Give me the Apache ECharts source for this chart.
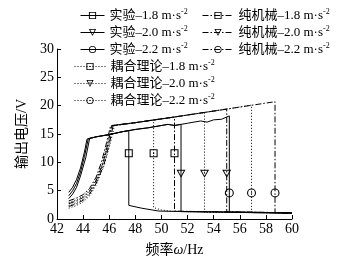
<!DOCTYPE html>
<html>
<head>
<meta charset="utf-8">
<script src="https://cdn.jsdelivr.net/npm/echarts@6/dist/echarts.min.js"></script>
<style>
  html, body { margin: 0; padding: 0; background: #fff; }
  #chart { width: 347px; height: 262px; }
</style>
</head>
<body>
<div id="chart"></div>
<script>
var FONT = '"Liberation Serif", "Noto Sans CJK SC", serif';

// 实验 (solid)
var exp18 = [[42.9,4.7],[43.2,5.6],[43.5,7.0],[43.8,9.0],[44.1,11.8],[44.3,14.1],[45,14.5],[46,14.9],[47,15.4],[47.5,15.6],[47.5,2.4],[48.5,1.9],[49.8,1.4],[52,1.3],[56,1.2],[60,1.1]];
var exp20 = [[42.9,4.1],[43.2,5.0],[43.5,6.3],[43.8,8.3],[44.1,11.0],[44.4,14.2],[45,14.5],[46,14.9],[47,15.4],[48,15.8],[49,16.1],[50,16.5],[50.5,16.7],[51,16.5],[51.5,16.7],[51.5,1.3],[56,1.2],[60,1.1]];
var exp22 = [[42.9,3.6],[43.2,4.4],[43.5,5.6],[43.8,7.6],[44.2,10.8],[44.5,14.2],[45,14.5],[46,14.9],[47,15.4],[48,15.8],[49,16.1],[50,16.5],[50.5,16.7],[51,16.5],[52,16.9],[53,17.3],[53.5,17.1],[54,17.5],[54.6,17.6],[55.2,18.2],[55.2,1.2],[60,1.0]];

// 纯机械 (dash-dot)
var mech18 = [[42.9,3.2],[43.5,3.7],[44,4.3],[44.5,5.4],[45,7.4],[45.4,10.0],[45.8,13.5],[46.1,16.4],[48,17.0],[51,18.0],[51,1.4],[53,1.3],[57,1.2],[60,1.1]];
var mech20 = [[42.9,2.7],[43.5,3.2],[44,3.8],[44.5,4.9],[45,6.8],[45.5,9.7],[45.9,13.3],[46.2,16.5],[48,17.0],[51,18.0],[55,19.4],[55,1.2],[60,1.1]];
var mech22 = [[42.9,2.2],[43.5,2.7],[44,3.3],[44.5,4.4],[45,6.3],[45.6,9.6],[46,13.2],[46.3,16.5],[48,17.0],[51,18.0],[55,19.4],[58.7,20.7],[58.7,1.1],[60,1.0]];

// 耦合理论 (dotted)
var th18 = [[42.9,2.9],[43.5,3.4],[44,4.0],[44.5,5.1],[45,7.0],[45.5,10.0],[45.9,13.8],[46.2,16.5],[48,17.0],[49.4,17.5],[49.4,2.0],[50,1.6],[50.8,1.35],[54,1.25],[60,1.1]];
var th20 = [[42.9,2.4],[43.5,2.9],[44,3.5],[44.5,4.6],[45,6.5],[45.5,9.6],[46,13.6],[46.3,16.5],[48,17.0],[51,18.0],[53.3,18.8],[53.3,1.2],[60,1.05]];
var th22 = [[42.9,1.9],[43.5,2.4],[44,3.0],[44.5,4.1],[45,6.0],[45.6,9.4],[46.1,13.5],[46.4,16.5],[48,17.0],[51,18.0],[55,19.4],[56.9,20.1],[56.9,1.1],[60,1.0]];

// marker positions on the drop lines
var mExp = [[47.5,11.6],[51.5,8.0],[55.2,4.6]];
var mTh = [[49.4,11.6],[53.3,8.0],[56.9,4.6]];
var mMech = [[51.0,11.6],[55.0,8.0],[58.7,4.6]];

var accel = ['1.8','2.0','2.2'];

// hollow markers as ring paths; the dotted (theory) ones get a centre dot
var SQ = 'path://M0,0H10V10H0Z M1.3,1.3V8.7H8.7V1.3Z';
var TRI = 'path://M0,0L10,0L5,9Z M1.9,1.1L5,7L8.1,1.1Z';
var CIR = 'path://M5,0A5,5,0,1,1,5,10A5,5,0,1,1,5,0Z M5,1.2A3.8,3.8,0,1,0,5,8.8A3.8,3.8,0,1,0,5,1.2Z';
var SQ_D = SQ + ' M4.2,4.2H5.8V5.8H4.2Z';
var TRI_D = TRI + ' M4.4,2.4H5.6V3.6H4.4Z';
var CIR_D = CIR + ' M5,4.2A0.8,0.8,0,1,1,5,5.8A0.8,0.8,0,1,1,5,4.2Z';

function withMarker(pts, m) {
  var out = [];
  for (var i = 0; i < pts.length; i++) {
    out.push({ value: pts[i], symbol: 'none' });
    if (i + 1 < pts.length && pts[i][0] === pts[i + 1][0] && pts[i][1] > pts[i + 1][1]) {
      out.push({ value: m });
    }
  }
  return out;
}

function mkSeries(name, pts, m, sym, size, dash, dotted) {
  return {
    name: name,
    type: 'line',
    data: withMarker(pts, m),
    symbol: sym,
    symbolSize: size,
    showAllSymbol: true,
    lineStyle: { color: '#000', width: 1, type: dash },
    itemStyle: { color: '#000', borderWidth: 0 },
    emphasis: { disabled: true },
    z: dotted ? 3 : 2
  };
}

var sq = [SQ, TRI, CIR], sqD = [SQ_D, TRI_D, CIR_D], sz = [8, [9, 8], 9];
var expData = [exp18, exp20, exp22], mechData = [mech18, mech20, mech22], thData = [th18, th20, th22];
var namesExp = [], namesMech = [], namesTh = [];
var series = [];
for (var k = 0; k < 3; k++) {
  var ne = '实验–' + accel[k] + ' m·s-2';
  var nm = '纯机械–' + accel[k] + ' m·s-2';
  var nt = '耦合理论–' + accel[k] + ' m·s-2';
  namesExp.push(ne); namesMech.push(nm); namesTh.push(nt);
  series.push(mkSeries(ne, expData[k], mExp[k], sq[k], sz[k], 'solid', false));
  series.push(mkSeries(nm, mechData[k], mMech[k], sq[k], sz[k], [6, 2, 1.5, 2], false));
  series.push(mkSeries(nt, thData[k], mTh[k], sqD[k], sz[k], [1, 2], true));
}

function legendFmt(n) { return n.replace(' m·s-2', ' m·s{sup|-2}'); }
var legendText = {
  color: '#000', fontFamily: FONT, fontSize: 13, lineHeight: 15,
  rich: { sup: { fontFamily: FONT, fontSize: 8, lineHeight: 9, verticalAlign: 'top', color: '#000' } }
};
function mkLegend(names, left, top, w) {
  return {
    data: names, orient: 'vertical', left: left, top: top,
    itemWidth: w, itemHeight: 9, itemGap: 2, padding: 0,
    lineStyle: { width: 1 },
    formatter: legendFmt, textStyle: legendText, selectedMode: false
  };
}

var chart = echarts.init(document.getElementById('chart'), null, { renderer: 'canvas' });
chart.setOption({
  animation: false,
  backgroundColor: '#fff',
  grid: { left: 57, right: 55, top: 49, bottom: 36 },
  legend: [
    mkLegend(namesExp, 80, 8, 24),
    mkLegend(namesTh, 74, 59, 31),
    mkLegend(namesMech, 202, 8, 31)
  ],
  xAxis: {
    type: 'value', min: 42, max: 60, interval: 2,
    name: '频率{i|ω}/Hz', nameLocation: 'middle', nameGap: 24,
    nameTextStyle: { color: '#000', fontFamily: FONT, fontSize: 14,
      rich: { i: { fontFamily: FONT, fontStyle: 'italic', fontSize: 14, color: '#000' } } },
    axisLine: { lineStyle: { color: '#000', width: 1 } },
    axisTick: { inside: true, length: 4, lineStyle: { color: '#000' } },
    axisLabel: { color: '#000', fontFamily: FONT, fontSize: 14, margin: 3 },
    splitLine: { show: false }
  },
  yAxis: {
    type: 'value', min: 0, max: 30, interval: 5,
    name: '输出电压/V', nameLocation: 'middle', nameGap: 20,
    nameTextStyle: { color: '#000', fontFamily: FONT, fontSize: 14 },
    axisLine: { show: true, lineStyle: { color: '#000', width: 1 } },
    axisTick: { show: true, inside: true, length: 4, lineStyle: { color: '#000' } },
    axisLabel: { color: '#000', fontFamily: FONT, fontSize: 14, margin: 3 },
    splitLine: { show: false }
  },
  series: series
});
</script>
</body>
</html>
